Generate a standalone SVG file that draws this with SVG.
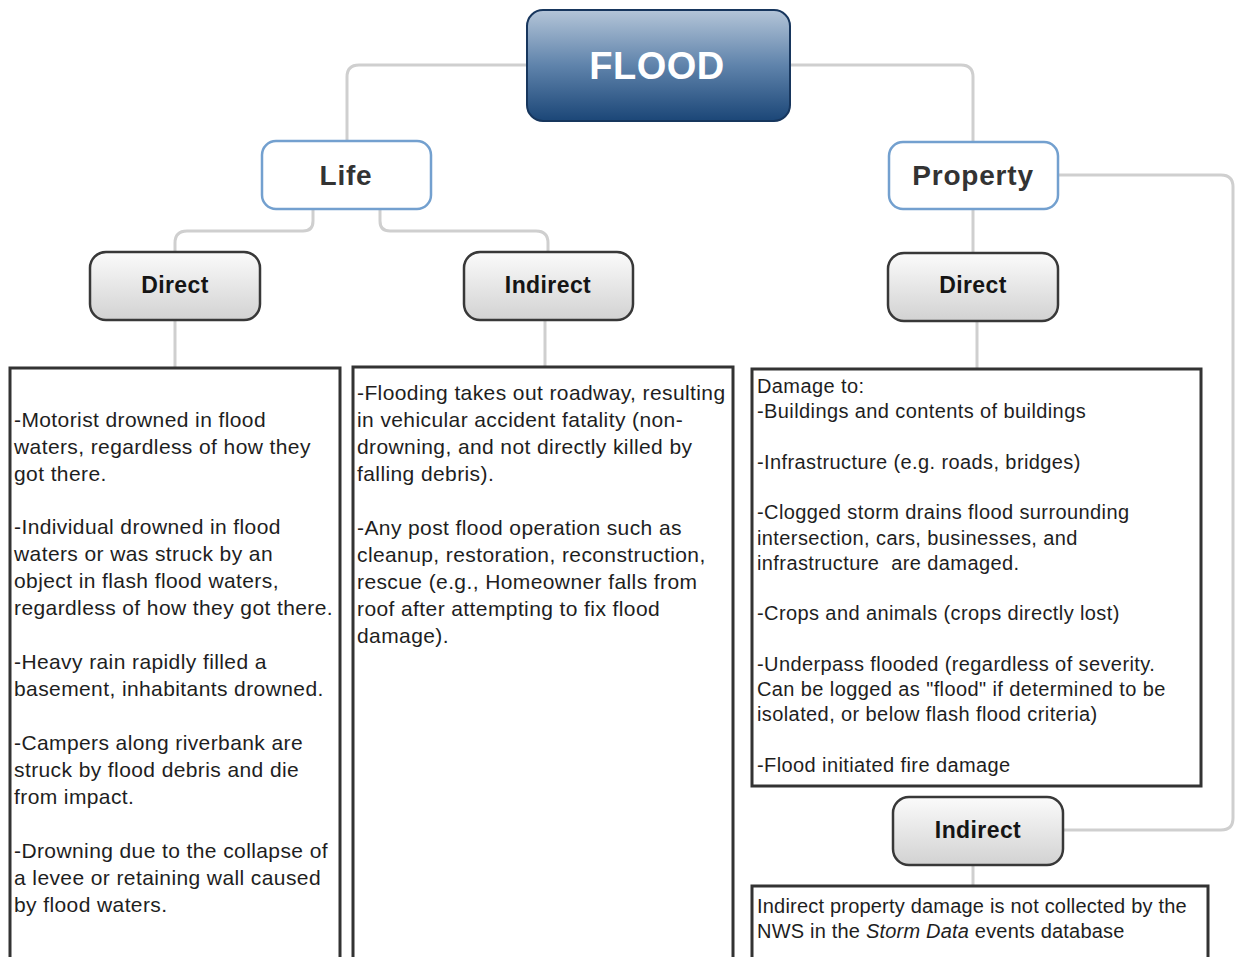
<svg xmlns="http://www.w3.org/2000/svg" width="1236" height="957" viewBox="0 0 1236 957">
<defs>
<linearGradient id="gFlood" x1="0" y1="0" x2="0" y2="1">
<stop offset="0" stop-color="#b4c5d8"/>
<stop offset="0.5" stop-color="#5f83ab"/>
<stop offset="1" stop-color="#1b4677"/>
</linearGradient>
<linearGradient id="gGray" x1="0" y1="0" x2="0" y2="1">
<stop offset="0" stop-color="#fbfbfb"/>
<stop offset="1" stop-color="#d2d2d2"/>
</linearGradient>
<style>
.conn{fill:none;stroke:#cfcfcf;stroke-width:3}
.blue{fill:#ffffff;stroke:#73a0cf;stroke-width:2.5}
.gray{fill:url(#gGray);stroke:#383838;stroke-width:2.5}
.box{fill:#ffffff;stroke:#333333;stroke-width:3}
.t1{font-family:"Liberation Sans",Arial,sans-serif;font-weight:bold;font-size:28px;fill:#333333;text-anchor:middle;letter-spacing:0.8px}
.t2{font-family:"Liberation Sans",Arial,sans-serif;font-weight:bold;font-size:23px;fill:#151515;text-anchor:middle;letter-spacing:0.4px}
.bt{font-family:"Liberation Sans",Arial,sans-serif;font-size:21px;fill:#1e1e1e;letter-spacing:0.4px}
.bs{font-family:"Liberation Sans",Arial,sans-serif;font-size:20px;fill:#1e1e1e;letter-spacing:0.4px}
.bs2{font-family:"Liberation Sans",Arial,sans-serif;font-size:20px;fill:#1e1e1e;letter-spacing:0.2px}
</style>
</defs>
<rect width="1236" height="957" fill="#ffffff"/>
<g id="connectors">
<path class="conn" d="M527,65 H359 Q347,65 347,77 V141"/>
<path class="conn" d="M790,65 H961 Q973,65 973,77 V142"/>
<path class="conn" d="M313,209 V221 Q313,231 303,231 H187 Q175,231 175,243 V252"/>
<path class="conn" d="M380,209 V221 Q380,231 390,231 H536 Q548,231 548,243 V252"/>
<path class="conn" d="M973,209 V253"/>
<path class="conn" d="M1058,175 H1221 Q1233,175 1233,187 V818 Q1233,830 1221,830 H1063"/>
<path class="conn" d="M175,320 V368"/>
<path class="conn" d="M545,320 V367"/>
<path class="conn" d="M977,321 V369"/>
<path class="conn" d="M973,865 V886"/>
</g>
<g id="flood">
<rect x="527" y="10" width="263" height="111" rx="16" fill="url(#gFlood)" stroke="#17365d" stroke-width="2"/>
<text x="657" y="79" font-family="Liberation Sans,Arial,sans-serif" font-weight="bold" font-size="38" fill="#ffffff" text-anchor="middle" letter-spacing="0.5">FLOOD</text>
</g>
<g id="life">
<rect class="blue" x="262" y="141" width="169" height="68" rx="14"/>
<text class="t1" x="346" y="185">Life</text>
</g>
<g id="property">
<rect class="blue" x="889" y="142" width="169" height="67" rx="14"/>
<text class="t1" x="973" y="185">Property</text>
</g>
<g id="life-direct">
<rect class="gray" x="90" y="252" width="170" height="68" rx="16"/>
<text class="t2" x="175" y="293">Direct</text>
</g>
<g id="life-indirect">
<rect class="gray" x="464" y="252" width="169" height="68" rx="16"/>
<text class="t2" x="548" y="293">Indirect</text>
</g>
<g id="property-direct">
<rect class="gray" x="888" y="253" width="170" height="68" rx="16"/>
<text class="t2" x="973" y="293">Direct</text>
</g>
<g id="property-indirect">
<rect class="gray" x="893" y="797" width="170" height="68" rx="16"/>
<text class="t2" x="978" y="838">Indirect</text>
</g>
<g id="life-direct-box">
<rect class="box" x="10" y="368" width="330" height="600"/>
<text class="bt" x="14">
<tspan x="14" y="427">-Motorist drowned in flood</tspan>
<tspan x="14" y="454">waters, regardless of how they</tspan>
<tspan x="14" y="481">got there.</tspan>
<tspan x="14" y="534">-Individual drowned in flood</tspan>
<tspan x="14" y="561">waters or was struck by an</tspan>
<tspan x="14" y="588">object in flash flood waters,</tspan>
<tspan x="14" y="615">regardless of how they got there.</tspan>
<tspan x="14" y="669">-Heavy rain rapidly filled a</tspan>
<tspan x="14" y="696">basement, inhabitants drowned.</tspan>
<tspan x="14" y="750">-Campers along riverbank are</tspan>
<tspan x="14" y="777">struck by flood debris and die</tspan>
<tspan x="14" y="804">from impact.</tspan>
<tspan x="14" y="858">-Drowning due to the collapse of</tspan>
<tspan x="14" y="885">a levee or retaining wall caused</tspan>
<tspan x="14" y="912">by flood waters.</tspan>
</text>
</g>
<g id="life-indirect-box">
<rect class="box" x="353" y="367" width="380" height="600"/>
<text class="bt">
<tspan x="357" y="400">-Flooding takes out roadway, resulting</tspan>
<tspan x="357" y="427">in vehicular accident fatality (non-</tspan>
<tspan x="357" y="454">drowning, and not directly killed by</tspan>
<tspan x="357" y="481">falling debris).</tspan>
<tspan x="357" y="535">-Any post flood operation such as</tspan>
<tspan x="357" y="562">cleanup, restoration, reconstruction,</tspan>
<tspan x="357" y="589">rescue (e.g., Homeowner falls from</tspan>
<tspan x="357" y="616">roof after attempting to fix flood</tspan>
<tspan x="357" y="643">damage).</tspan>
</text>
</g>
<g id="property-direct-box">
<rect class="box" x="752" y="369" width="449" height="417"/>
<text class="bs">
<tspan x="757" y="393">Damage to:</tspan>
<tspan x="757" y="418">-Buildings and contents of buildings</tspan>
<tspan x="757" y="469">-Infrastructure (e.g. roads, bridges)</tspan>
<tspan x="757" y="519">-Clogged storm drains flood surrounding</tspan>
<tspan x="757" y="545">intersection, cars, businesses, and</tspan>
<tspan x="757" y="570" xml:space="preserve">infrastructure  are damaged.</tspan>
<tspan x="757" y="620">-Crops and animals (crops directly lost)</tspan>
<tspan x="757" y="671">-Underpass flooded (regardless of severity.</tspan>
<tspan x="757" y="696">Can be logged as "flood" if determined to be</tspan>
<tspan x="757" y="721">isolated, or below flash flood criteria)</tspan>
<tspan x="757" y="772">-Flood initiated fire damage</tspan>
</text>
</g>
<g id="property-indirect-box">
<rect class="box" x="752" y="886" width="456" height="100"/>
<text class="bs2">
<tspan x="757" y="913">Indirect property damage is not collected by the</tspan>
<tspan x="757" y="938">NWS in the <tspan font-style="italic">Storm Data</tspan> events database</tspan>
</text>
</g>
</svg>
